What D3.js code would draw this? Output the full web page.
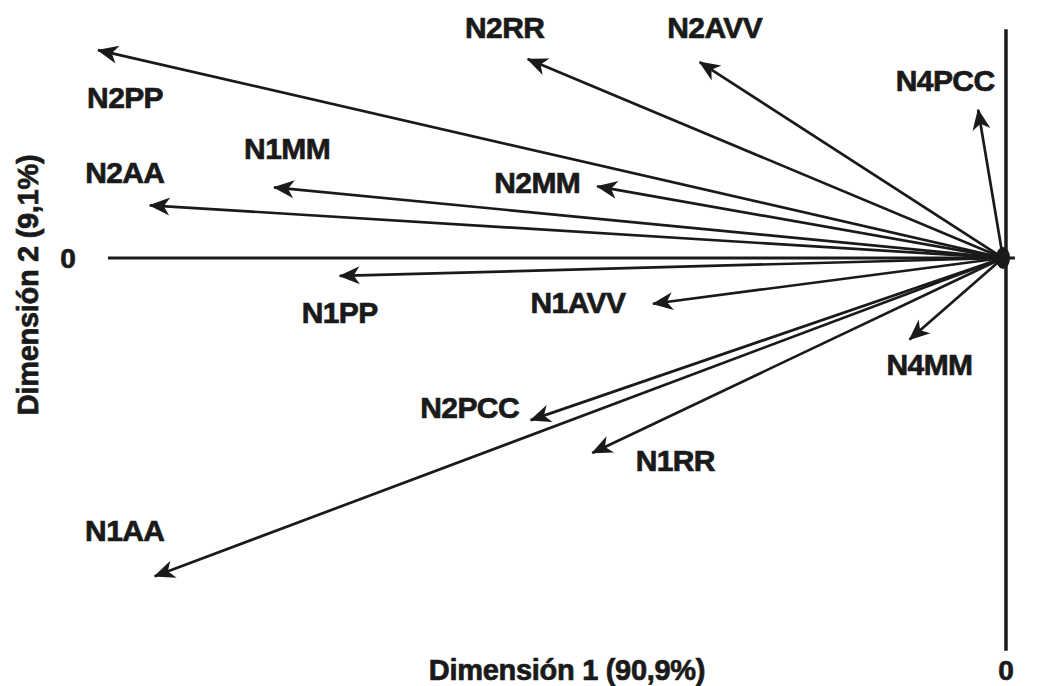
<!DOCTYPE html>
<html>
<head>
<meta charset="utf-8">
<script src="https://cdn.jsdelivr.net/npm/d3@7"></script>
<style>
  body { margin: 0; background: #fff; }
  text { font-family: "Liberation Sans", Arial, sans-serif; font-weight: bold; fill: #1a1a1a;
         stroke: #1a1a1a; stroke-width: 0.7px; }
</style>
</head>
<body>
<div id="chart"></div>
<script>
// Variables (loadings on Dim 1 / Dim 2)
const labels = ["N2PP", "N2RR", "N2AVV", "N4PCC", "N1MM", "N2AA", "N2MM",
                "N1PP", "N1AVV", "N4MM", "N2PCC", "N1RR", "N1AA"];
const dim1 = [-9.10, -4.78, -3.05, -0.25, -7.33, -8.58, -4.08,
              -6.67, -3.52, -0.94, -4.75, -4.13, -8.53];
const dim2 = [2.09, 2.00, 1.97, 1.49, 0.71, 0.53, 0.72,
              -0.18, -0.46, -0.82, -1.63, -1.96, -3.20];
// where the label sits relative to the arrow tip (px)
const labelDx = [27, -23, 15, -33, 13, -25, -60, 0, -75, 20, -61, 83, -30];
const labelDy = [47, -32, -35, -30, -39, -33, -4, 36, -2, 25, -13, 7, -46];

const xTitle = "Dimensión 1 (90,9%)";
const yTitle = "Dimensión 2 (9,1%)";

const width = 1037, height = 686;

const svg = d3.select("#chart").append("svg")
    .attr("width", width)
    .attr("height", height);

// scales: origin at the right, same px per unit on both axes
const x = d3.scaleLinear().domain([-9, 0]).range([108, 1003]);
const y = d3.scaleLinear().domain([0, -4]).range([258, 655.8]);

// arrow head
svg.append("defs").append("marker")
    .attr("id", "head")
    .attr("markerUnits", "userSpaceOnUse")
    .attr("viewBox", "-22 -10 24 20")
    .attr("refX", 0)
    .attr("refY", 0)
    .attr("markerWidth", 24)
    .attr("markerHeight", 20)
    .attr("orient", "auto")
    .append("path")
    .attr("d", "M1,0 L-20,-9 L-14,0 L-20,9 Z")
    .attr("fill", "#1a1a1a");

// axes
svg.append("line")
    .attr("x1", x(-9)).attr("x2", x(0.12))
    .attr("y1", y(0)).attr("y2", y(0))
    .attr("stroke", "#1a1a1a").attr("stroke-width", 3.2);

svg.append("line")
    .attr("x1", x(0.03)).attr("x2", x(0.03))
    .attr("y1", y(2.3)).attr("y2", y(-3.95))
    .attr("stroke", "#1a1a1a").attr("stroke-width", 3.5);

// vectors
const data = labels.map((d, i) => ({ name: d, x: dim1[i], y: dim2[i], dx: labelDx[i], dy: labelDy[i] }));

svg.selectAll("line.vec")
    .data(data)
    .enter()
    .append("line")
    .attr("class", "vec")
    .attr("x1", x(0)).attr("y1", y(0))
    .attr("x2", d => x(d.x)).attr("y2", d => y(d.y))
    .attr("stroke", "#1a1a1a")
    .attr("stroke-width", 2.7)
    .attr("marker-end", "url(#head)");

// blob at origin
svg.append("ellipse")
    .attr("cx", x(0)).attr("cy", y(0))
    .attr("rx", 7).attr("ry", 11)
    .attr("fill", "#1a1a1a");

svg.selectAll("text.lab")
    .data(data)
    .enter()
    .append("text")
    .attr("class", "lab")
    .attr("x", d => x(d.x) + d.dx)
    .attr("y", d => y(d.y) + d.dy)
    .attr("dy", "0.36em")
    .attr("text-anchor", "middle")
    .style("font-size", "30px")
    .style("letter-spacing", "-0.6px")
    .text(d => d.name);

// zero labels
svg.append("text")
    .attr("x", 68).attr("y", y(0)).attr("dy", "0.36em")
    .attr("text-anchor", "middle")
    .style("font-size", "28px")
    .text("0");

svg.append("text")
    .attr("x", x(0.03)).attr("y", 670).attr("dy", "0.36em")
    .attr("text-anchor", "middle")
    .style("font-size", "28px")
    .text("0");

// axis titles
svg.append("text")
    .attr("x", 567).attr("y", 670).attr("dy", "0.36em")
    .attr("text-anchor", "middle")
    .style("font-size", "29px")
    .style("letter-spacing", "-0.3px")
    .text(xTitle);

svg.append("text")
    .attr("transform", "translate(28,285) rotate(-90)")
    .attr("dy", "0.36em")
    .attr("text-anchor", "middle")
    .style("font-size", "29px")
    .style("letter-spacing", "-0.3px")
    .text(yTitle);
</script>
</body>
</html>
